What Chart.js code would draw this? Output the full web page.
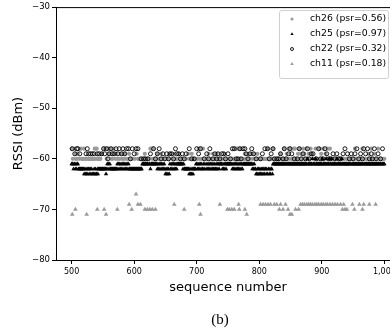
<!DOCTYPE html>
<html>
<head>
<meta charset="utf-8">
<script src="https://cdn.jsdelivr.net/npm/chart.js@4/dist/chart.umd.min.js"></script>
<style>
  html, body { margin: 0; padding: 0; background: #fff; overflow: hidden; }
  #wrap { width: 390px; height: 330px; overflow: hidden; }
</style>
</head>
<body>
<div id="wrap"><canvas id="chart" width="410" height="330"></canvas></div>
<script>
const seqStart = 500;
const xTicks = [500, 600, 700, 800, 900, 1000];
const yTicks = [-80, -70, -60, -50, -40, -30];
const seriesLabels = ["ch26 (psr=0.56)", "ch25 (psr=0.97)", "ch22 (psr=0.32)", "ch11 (psr=0.18)"];

// one char per sequence number, starting at 500 (50 per row, grouped by 10)
// digit d -> RSSI of -58 - d dBm, "." = packet not received
const ch26Rows = [
  "0.2.0.1221 1.2..02.22 0.2.2..22. 2.22.2.02. 02.2.22.1.",
  "..0.0.2.00 1.0.22.0.1 2.1.2..2.1 .2.2.1.2.. 2.1..2.2..",
  ".2..1.22.2 2.22.2.1.2 .22.2.0.02 0.2.2.21.2 .2.1.2.2..",
  "2..2.2..1. .2..1.2.2. 2.1.2..2.. .2.2..1.2. 2.1.22.2..",
  ".2.0.20.2. 0.2..2.2.1 .2..2.1.2. 2.1.2..2.2 2.22.1.22.",
  "2.2.2.22.2 2.0.02.0.2 0.2.2.21.2 1.2.12.1.2 .1.2.2.1.2",
  "2.2..2.2.2 .2.2.0.2.2 2.0.2.2.2. 2.2.1.2.2. 0.2.12.0.2",
  "0.22.0.02. 2.1.0.21.2 0.12.0.2.1 2.0.1.22.2 0.2.2.0.21",
  "2.0.2.12.0 .2.0.2.2.2 2.2.2..2.2 .2.2.2.2.. 2.2..2.2.2",
  ".2.0.2..2. 2..2.0.2.2 .2.2.1.2.0 2.2.1.2.2. 0.2.2.2.2.",
  "2"
];
const ch25Rows = [
  "3334334343 3444444444 5454545445 4545.54545 5454444444",
  "4444454343 4344444444 4443434343 4343434343 4344444444",
  "4444444444 4443333333 333.334333 3333333434 3434343434",
  "5454545343 4343434343 3333333343 4444444454 5454544443",
  "3434343434 4343.43434 3434343434 4343434333 3434343433",
  "33333.3434 3434343434 3434333333 3333333334 3434455454",
  "5454545454 4545.45454 4533333333 3333333333 333.333333",
  "3333333333 3333333333 3333333233 3333323333 2333333333",
  "3233333233 3323332333 3333233333 3323333333 3333333.33",
  "3333333333 333333.333 3333333333 3333333333 33333.3333",
  "3"
];
const ch22Rows = [
  ".0...1..0. 0..1...... ...1.0.1.. 1..1..1... .1..1...1.",
  ".0.1..0.2. 1..0.1..1. .0..1.0... 1.0..1..0. .0..2..0..",
  "1..0..0... .2...2..2. ..2...1... .0..2..1.. 0..2..1..2",
  "..1..2.1.. 1..2..0.1. .1..2..1.. 2..1....0. ..2...2...",
  "0..1..0... ..2...1..2 .0....2..1 ..2.1..2.. 1..1..2...",
  "1...2..0.. 0..2..2..0 .2..0..0.1 ..2..1..0. .1...2....",
  "..2..1...0 ...0..2..1 ..0.2...2. .2..1...2. 0..2...1.0",
  "..1...2... .2..0..2.. 1...2..0.. 2..1..1... .2...0..2.",
  "..2..0..1. .2..2...1. .2..1..2.. 2...1..0.. .1..2..1..",
  "2..1..0..2 ..1..2.0.. 1..0..2..1 .2..0..2.. 1...2..0..",
  "."
];

// ch11 is sparse, listed point by point
const ch11Seq = [501, 506, 524, 541, 552, 555, 573, 592, 596, 603, 606, 610, 617, 621, 625, 629, 634,
  664, 680, 704, 706, 737, 749, 752, 756, 760, 767, 768, 777, 780, 802, 806, 810, 814, 818, 824,
  828, 832, 834, 838, 842, 846, 849, 852, 858, 863, 866, 869, 872, 876, 879, 882, 885, 889, 892,
  895, 899, 902, 906, 909, 913, 917, 921, 925, 930, 933, 935, 937, 940, 949, 952, 960, 965, 967,
  976, 986];
const ch11Rssi = [-71, -70, -71, -70, -70, -71, -70, -69, -70, -67, -69, -69, -70, -70, -70, -70, -70,
  -69, -70, -69, -71, -69, -70, -70, -70, -70, -69, -70, -70, -71, -69, -69, -69, -69, -69, -69,
  -69, -70, -69, -70, -69, -70, -71, -71, -70, -70, -69, -69, -69, -69, -69, -69, -69, -69, -69,
  -69, -69, -69, -69, -69, -69, -69, -69, -69, -69, -70, -69, -70, -70, -69, -70, -69, -70, -69,
  -69, -69];

function readRows(rows) {
  const pts = [];
  rows.join("").replace(/ /g, "").split("").forEach((c, i) => {
    if (c !== ".") pts.push({ x: seqStart + i, y: -58 - Number(c) });
  });
  return pts;
}

const FONT = "'DejaVu Sans', sans-serif";
Chart.defaults.font.family = FONT;
Chart.defaults.color = "#000";

// top/right frame lines, like matplotlib spines
const frame = {
  id: "frame",
  beforeDatasetsDraw(chart) {
    const { ctx, chartArea: a } = chart;
    ctx.save();
    ctx.strokeStyle = "#000";
    ctx.lineWidth = 1;
    ctx.beginPath();
    ctx.moveTo(a.left, a.top + 0.5);
    ctx.lineTo(a.right + 0.5, a.top + 0.5);
    ctx.lineTo(a.right + 0.5, a.bottom);
    ctx.stroke();
    ctx.restore();
  }
};

// legend box inside the plot, upper right
const boxLegend = {
  id: "boxLegend",
  afterDraw(chart) {
    const ctx = chart.ctx;
    const x0 = 279.5, y0 = 10.5, w = 109, h = 68;
    ctx.save();
    ctx.fillStyle = "rgba(255,255,255,0.8)";
    ctx.strokeStyle = "#d0d0d0";
    ctx.lineWidth = 1;
    ctx.beginPath();
    ctx.roundRect(x0, y0, w, h, 2);
    ctx.fill();
    ctx.stroke();
    chart.data.datasets.forEach((ds, i) => {
      const y = 19 + i * 15;
      ctx.fillStyle = ds.backgroundColor;
      ctx.strokeStyle = ds.borderColor;
      ctx.lineWidth = ds.borderWidth;
      Chart.helpers.drawPoint(ctx, {
        pointStyle: ds.pointStyle,
        radius: ds.pointRadius * 0.75,
        rotation: 0,
        borderWidth: ds.borderWidth
      }, 292, y);
      ctx.fillStyle = "#000";
      ctx.font = "9.3px " + FONT;
      ctx.textAlign = "left";
      ctx.textBaseline = "middle";
      ctx.fillText(ds.label, 310, y);
    });
    ctx.font = "15px 'Liberation Serif', serif";
    ctx.textAlign = "center";
    ctx.fillText("(b)", 220, 320);
    ctx.restore();
  }
};

new Chart(document.getElementById("chart").getContext("2d"), {
  type: "scatter",
  data: {
    datasets: [
      {
        label: seriesLabels[0], data: readRows(ch26Rows), order: 4,
        pointStyle: "circle", pointRadius: 2.1, borderWidth: 0,
        backgroundColor: "#9a9a9a", borderColor: "#9a9a9a"
      },
      {
        label: seriesLabels[1], data: readRows(ch25Rows), order: 3,
        pointStyle: "triangle", pointRadius: 2.5, borderWidth: 0,
        backgroundColor: "#000", borderColor: "#000"
      },
      {
        label: seriesLabels[2], data: readRows(ch22Rows), order: 2,
        pointStyle: "circle", pointRadius: 2.0, borderWidth: 0.9,
        backgroundColor: "rgba(255,255,255,0)", borderColor: "#000"
      },
      {
        label: seriesLabels[3], data: ch11Seq.map((s, i) => ({ x: s, y: ch11Rssi[i] })), order: 1,
        pointStyle: "triangle", pointRadius: 2.7, borderWidth: 0,
        backgroundColor: "#9a9a9a", borderColor: "#9a9a9a"
      }
    ]
  },
  options: {
    responsive: false,
    animation: false,
    events: [],
    layout: { padding: { left: 0, top: 7, right: 10, bottom: 0 } },
    plugins: { legend: { display: false }, tooltip: { enabled: false } },
    scales: {
      x: {
        type: "linear", min: 475, max: 1025,
        afterBuildTicks: s => { s.ticks = xTicks.map(v => ({ value: v })); },
        afterFit: s => { s.height = 70; },
        grid: { display: true, drawOnChartArea: false, drawTicks: true, tickLength: 4, tickColor: "#000" },
        border: { display: true, color: "#000", width: 1 },
        ticks: { font: { size: 8 }, color: "#000", padding: 3, maxRotation: 0, autoSkip: false },
        title: { display: true, text: "sequence number", font: { size: 13 }, color: "#000", padding: { top: 0, bottom: 35 } }
      },
      y: {
        type: "linear", min: -80, max: -30,
        afterBuildTicks: s => { s.ticks = yTicks.map(v => ({ value: v })); },
        afterFit: s => { s.width = 56; },
        grid: { display: true, drawOnChartArea: false, drawTicks: true, tickLength: 4, tickColor: "#000" },
        border: { display: true, color: "#000", width: 1 },
        ticks: {
          font: { size: 8.5 }, color: "#000", padding: 2, autoSkip: false,
          callback: v => (v < 0 ? "\u2212" + Math.abs(v) : String(v))
        },
        title: { display: true, text: "RSSI (dBm)", font: { size: 13 }, color: "#000", padding: { top: 11, bottom: 0 } }
      }
    }
  },
  plugins: [frame, boxLegend]
});
</script>
</body>
</html>
